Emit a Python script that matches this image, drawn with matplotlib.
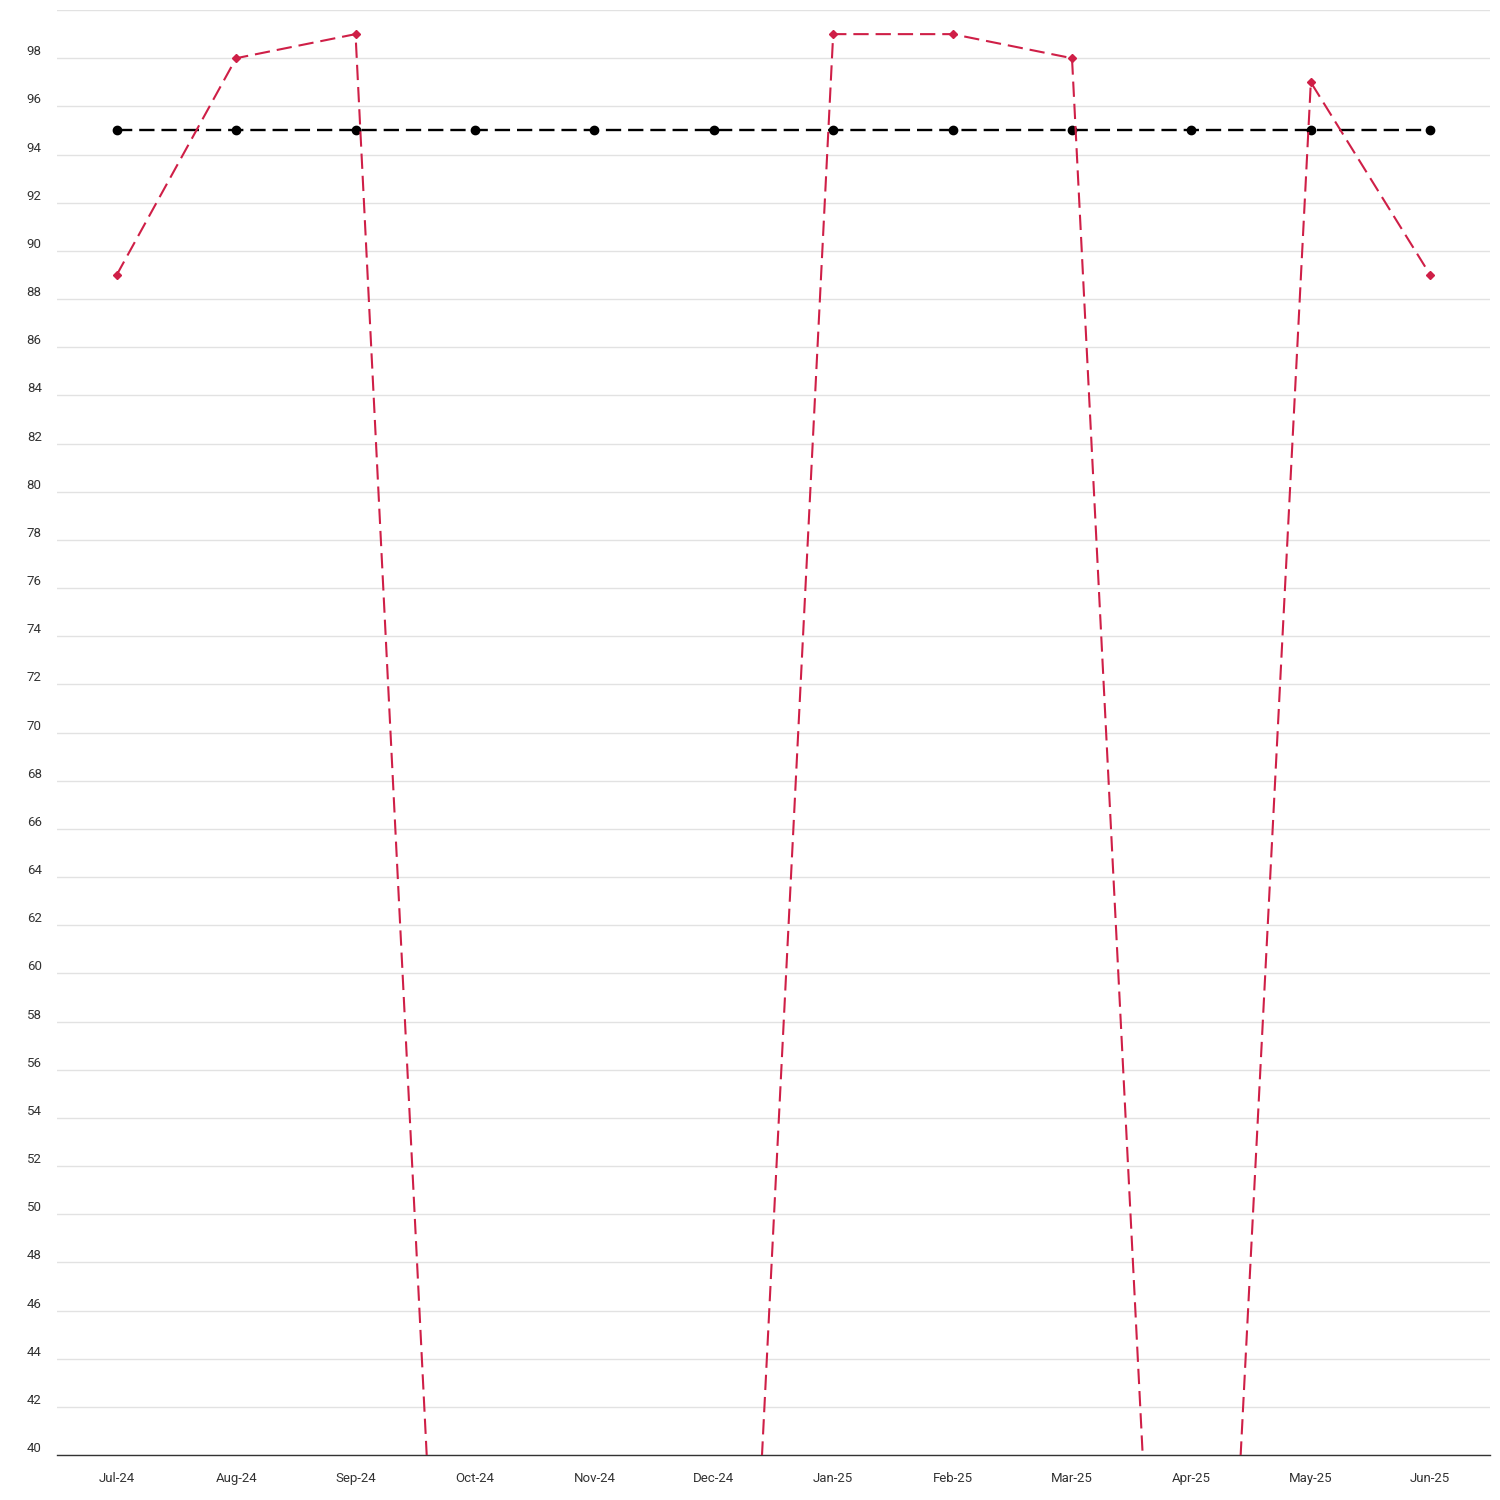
import matplotlib
matplotlib.use("Agg")
import matplotlib.pyplot as plt

plt.rcParams['font.family'] = ['Roboto', 'DejaVu Sans']
plt.rcParams['lines.scale_dashes'] = False

months = ["Jul-24", "Aug-24", "Sep-24", "Oct-24", "Nov-24", "Dec-24",
          "Jan-25", "Feb-25", "Mar-25", "Apr-25", "May-25", "Jun-25"]
actual = [89, 98, 99, 0, 0, 0, 99, 99, 98, 0, 97, 89]
target = [95, 95, 95, 95, 95, 95, 95, 95, 95, 95, 95, 95]
y_ticks = list(range(40, 101, 2))
y_labels = [str(v) if v < 100 else "" for v in y_ticks]

fig = plt.figure(figsize=(15, 15), dpi=100)
ax = fig.add_axes([0.038, 0.03, 0.9553, 0.9633])

x = list(range(len(months)))
ax.plot(x, target, color='black', lw=1.7, dashes=(11, 5),
        marker='o', markersize=6, zorder=3)
ax.plot(x, actual, color='#cf1f47', lw=1.5, dashes=(11, 5),
        marker='D', markersize=4.2, zorder=4)

ax.set_xlim(-0.5, len(months) - 0.5)
ax.set_ylim(40, 100)
ax.set_xticks(x)
ax.set_xticklabels(months, fontsize=9.5, color='#333333')
ax.set_yticks(y_ticks)
ax.set_yticklabels(y_labels, fontsize=9.5, color='#333333')
for lab in ax.get_yticklabels():
    lab.set_verticalalignment('bottom')
ax.tick_params(axis='y', length=0, pad=11)
ax.tick_params(axis='x', length=0, pad=12)

ax.grid(axis='y', color='#e2e2e2', lw=1)
ax.set_axisbelow(True)
for s in ['top', 'right', 'left']:
    ax.spines[s].set_visible(False)
ax.spines['bottom'].set_color('#333333')
ax.spines['bottom'].set_linewidth(1)

fig.savefig('out.png', dpi=100, facecolor='white')
